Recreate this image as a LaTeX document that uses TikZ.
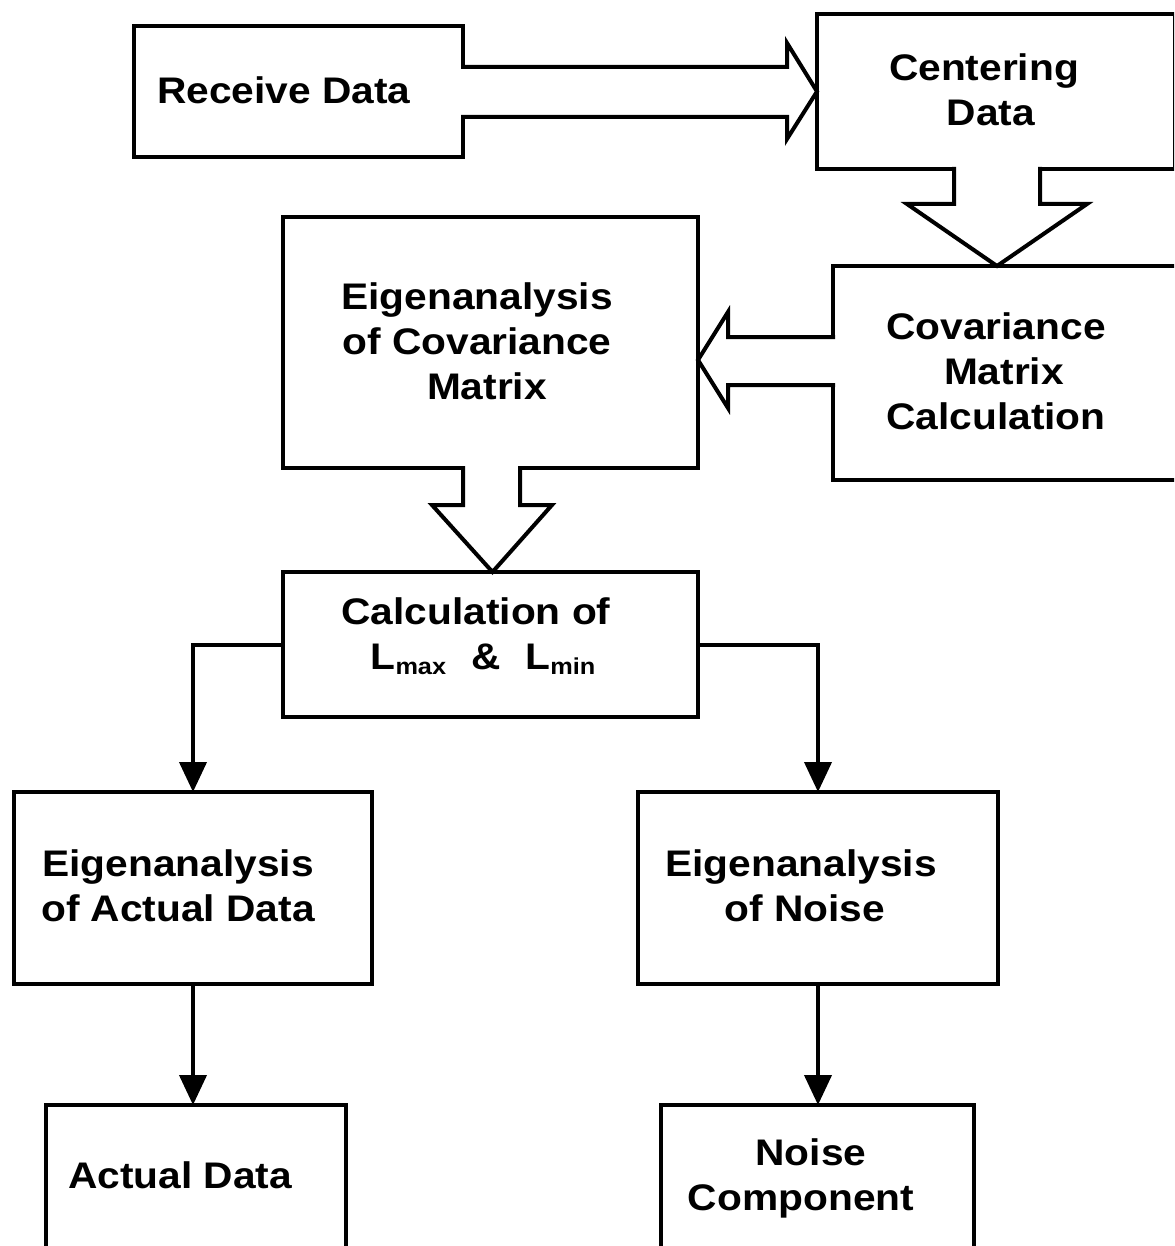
\documentclass[tikz,border=0pt]{standalone}
\usepackage{fontspec}
\newfontfamily\labelfont{Liberation Sans}[FakeStretch=1.1]
\usetikzlibrary{arrows.meta,calc}

\begin{document}
\begin{tikzpicture}[x=1pt,y=-1pt,
  box/.style={draw, rectangle, line width=4pt, inner sep=0pt, outer sep=0pt},
  txt/.style={align=center, inner sep=0pt,
    font=\labelfont\bfseries\fontsize{37}{45}\selectfont},
  erase/.style={draw=white, line width=4.6pt},
  bigarrow/.style={draw, line width=4pt, line cap=rect, line join=miter,
    preaction={fill=white}},
  conn/.style={draw, line width=4pt, -{Triangle[width=27pt,length=30pt]}}]
\useasboundingbox (0,0) rectangle (1174,1246);
\clip (0,0) rectangle (1174,1246);

% process boxes
\node[box, minimum width=329pt, minimum height=131pt] (recv) at (298.5,91.5) {};
\node[box, minimum width=357.5pt, minimum height=155pt] (cent) at (995.75,91.5) {};
\node[box, minimum width=357pt, minimum height=214pt] (cov) at (1011.5,373) {};
\node[box, minimum width=415pt, minimum height=251pt] (eig) at (490.5,342.5) {};
\node[box, minimum width=415pt, minimum height=145pt] (calc) at (490.5,644.5) {};
\node[box, minimum width=358pt, minimum height=192pt] (act) at (193,888) {};
\node[box, minimum width=360pt, minimum height=192pt] (noi) at (818,888) {};
\node[box, minimum width=300pt, minimum height=165pt] (actd) at (196,1187.5) {};
\node[box, minimum width=313pt, minimum height=165pt] (noic) at (817.5,1187.5) {};

% labels
\node[txt] (trecv) at (284,90) {Receive Data};
\node[txt] (tcent) at (984,90) {Centering\\\hspace*{14pt}Data};
\node[txt] (teig) at (477,341.5) {Eigenanalysis\\of Covariance\\\hspace*{20pt}Matrix};
\node[txt] (tcov) at (996,371) {Covariance\\\hspace*{16pt}Matrix\\Calculation};
\node[txt] (tcalc) at (476,636.5) {Calculation of\\\hspace*{14pt}%
  L\raisebox{-5pt}{\fontsize{23}{23}\selectfont max}\hspace{25pt}\&\hspace{25pt}L\raisebox{-5pt}{\fontsize{23}{23}\selectfont min}};
\node[txt] (tact) at (178,886) {Eigenanalysis\\of Actual Data};
\node[txt] (tnoi) at (801,886) {Eigenanalysis\\\hspace*{8pt}of Noise};
\node[txt] (tactd) at (180,1175) {Actual Data};
\node[txt] (tnoic) at (801,1178) {\hspace*{20pt}Noise\\Component};

% openings where the block arrows leave their boxes
\path[erase] ([yshift=22.5pt]recv.east) -- ([yshift=-23.5pt]recv.east);
\path[erase] ([xshift=-39.75pt]cent.south) -- ([xshift=42.25pt]cent.south);
\path[erase] ([yshift=34pt]cov.west) -- ([yshift=-10pt]cov.west);
\path[erase] ([xshift=-25.5pt]eig.south) -- ([xshift=27.5pt]eig.south);

% block arrows
\path[bigarrow] ([yshift=24.5pt]recv.east) -- ++(324,0) -- ++(0,-24)
  -- (cent.west) -- ++(-30,47.5) -- ++(0,-22) -- ([yshift=-25.5pt]recv.east);
\path[bigarrow] ([xshift=-41.75pt]cent.south) -- ++(0,35) -- ++(-47,0)
  -- ([xshift=-14.5pt]cov.north) -- ++(90,-62) -- ++(-47,0)
  -- ([xshift=44.25pt]cent.south);
\path[bigarrow] ([yshift=36pt]cov.west) -- ++(-105,0) -- ++(0,-25)
  -- ([yshift=-17.5pt]eig.east) -- ++(30,48) -- ++(0,-23)
  -- ([yshift=-12pt]cov.west);
\path[bigarrow] ([xshift=-27.5pt]eig.south) -- ++(0,37) -- ++(-31,0)
  -- ([xshift=2pt]calc.north) -- ++(59.5,-67) -- ++(-32,0)
  -- ([xshift=29.5pt]eig.south);

% line connectors
\path[conn] (calc.west) -| (act.north);
\path[conn] (calc.east) -| (noi.north);
\path[conn] (act.south) -- (act.south |- actd.north);
\path[conn] (noi.south) -- (noi.south |- noic.north);
\end{tikzpicture}
\end{document}
